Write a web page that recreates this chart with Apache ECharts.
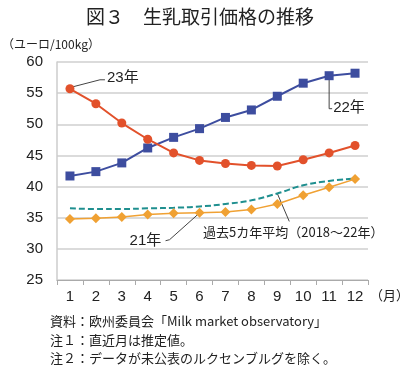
<!DOCTYPE html>
<html><head><meta charset="utf-8">
<script src="https://cdn.jsdelivr.net/npm/echarts@6/dist/echarts.min.js"></script>
<style>html,body{margin:0;padding:0;background:#fff}#c{width:400px;height:369px}</style>
</head><body><div id="c"></div>
<script>
const months = ['1','2','3','4','5','6','7','8','9','10','11','12'];
const y23 = [55.7,53.3,50.2,47.6,45.4,44.2,43.7,43.4,43.3,44.3,45.4,46.6];
const y22 = [41.7,42.4,43.8,46.2,47.9,49.3,51.1,52.3,54.5,56.6,57.8,58.2];
const y21 = [34.8,34.9,35.1,35.5,35.7,35.8,35.9,36.3,37.2,38.6,39.9,41.2];
const avg = [36.5,36.4,36.4,36.5,36.6,36.8,37.2,37.8,38.9,40.2,40.9,41.3];
const yTicks = [25,30,35,40,45,50,55,60];

const FONT = '"Liberation Sans","Noto Sans CJK JP",sans-serif';
const JP = '"Noto Sans CJK JP",sans-serif';
const chart = echarts.init(document.getElementById('c'), null, {renderer:'canvas'});
const option = {
  animation:false,
  textStyle:{fontFamily:FONT},
  title:{text:'図３　生乳取引価格の推移',left:'center',top:2,
    textStyle:{fontSize:19,fontWeight:'normal',color:'#222',fontFamily:JP}},
  grid:{left:57,right:32,top:62,bottom:89},
  xAxis:{type:'category',data:months,boundaryGap:true,
    axisLine:{lineStyle:{color:'#aaa',width:1}},
    axisTick:{show:true,length:5,lineStyle:{color:'#aaa'}},
    axisLabel:{fontSize:15,color:'#222',margin:9,fontFamily:FONT},
    splitLine:{show:false}},
  yAxis:{type:'value',min:25,max:60,interval:5,
    axisLine:{show:true,lineStyle:{color:'#ccc',width:1.5}},
    axisTick:{show:false},
    axisLabel:{fontSize:15,color:'#222',margin:14,fontFamily:FONT,
      formatter:v=>yTicks.includes(v)?String(v):''},
    splitLine:{lineStyle:{color:'#cfcfcf',width:1.5}}},
  series:[
    {name:'23年',type:'line',data:y23,symbol:'circle',symbolSize:9,
     lineStyle:{color:'#e2512b',width:2},itemStyle:{color:'#e2512b'},z:4},
    {name:'22年',type:'line',data:y22,symbol:'rect',symbolSize:9,
     lineStyle:{color:'#3d4d9f',width:2},itemStyle:{color:'#3d4d9f'},z:3},
    {name:'21年',type:'line',data:y21,symbol:'diamond',symbolSize:10,
     lineStyle:{color:'#f0a133',width:1.5},itemStyle:{color:'#f0a133'},z:3},
    {name:'avg',type:'line',data:avg,symbol:'none',smooth:true,
     lineStyle:{color:'#1f8f8f',width:2,type:[6,3]},z:2}
  ]
};
chart.setOption(option);

function px(i,v){return chart.convertToPixel({gridIndex:0},[i,v]);}
const p23 = px(0,y23[0]);
const p22 = px(10,y22[10]);
const p21 = px(5,y21[5]);
const pav = px(8,avg[8]);
const bottomY = px(0,25)[1];
const lineStyle = {stroke:'#444',lineWidth:1};
const g = [
  {type:'polyline',shape:{points:[[p23[0]+3,p23[1]-2],[p23[0]+30,p23[1]-9],[p23[0]+35,p23[1]-9]]},style:lineStyle,silent:true},
  {type:'text',left:p23[0]+37,top:p23[1]-18,style:{text:'23年',font:'15px '+FONT,fill:'#222'}},
  {type:'polyline',shape:{points:[[p22[0],p22[1]+4],[p22[0],p22[1]+33],[p22[0]+3,p22[1]+33]]},style:lineStyle,silent:true},
  {type:'text',left:p22[0]+4,top:p22[1]+25,style:{text:'22年',font:'15px '+FONT,fill:'#222'}},
  {type:'polyline',shape:{points:[[p21[0]-2,p21[1]+2],[p21[0]-30,p21[1]+27],[p21[0]-34,p21[1]+28]]},style:lineStyle,silent:true},
  {type:'text',left:p21[0]-70,top:p21[1]+21,style:{text:'21年',font:'15px '+FONT,fill:'#222'}},
  {type:'line',shape:{x1:pav[0],y1:pav[1],x2:pav[0]+12,y2:pav[1]+28},style:lineStyle,silent:true},
  {type:'text',left:203,top:pav[1]+32,style:{text:'過去5カ年平均（2018～22年）',font:'13px '+JP,fill:'#222'}},
  {type:'text',left:2,top:38,style:{text:'（ユーロ/100kg）',font:'12px '+JP,fill:'#222'}},
  {type:'text',left:370,top:bottomY+9,style:{text:'（月）',font:'13px '+JP,fill:'#222'}},
  {type:'text',left:50,top:315,style:{text:'資料：欧州委員会「Milk market observatory」',font:'13px '+JP,fill:'#222'}},
  {type:'text',left:50,top:334,style:{text:'注１：直近月は推定値。',font:'13px '+JP,fill:'#222'}},
  {type:'text',left:50,top:352,style:{text:'注２：データが未公表のルクセンブルグを除く。',font:'13px '+JP,fill:'#222'}}
];
chart.setOption({graphic:g});
</script>
</body></html>
